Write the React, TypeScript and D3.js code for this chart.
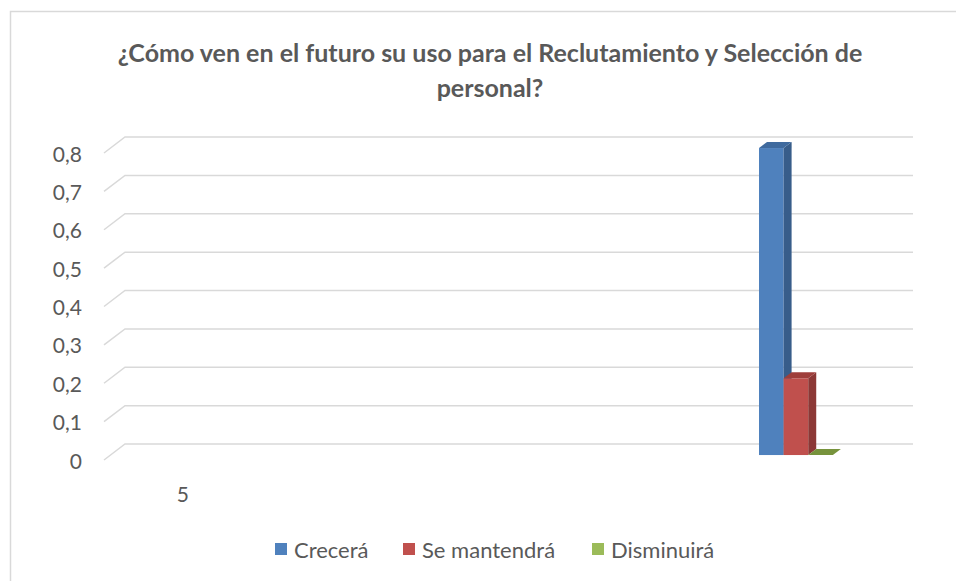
import React from 'react'
import * as d3 from 'd3'

// chart data
const categories = ['5', '', '', '', '']
const seriesNames = ['Crecerá', 'Se mantendrá', 'Disminuirá']
const crecera = [null, null, null, null, 0.8]
const seMantendra = [null, null, null, null, 0.2]
const disminuira = [null, null, null, null, 0]
const yTicks = [0, 0.1, 0.2, 0.3, 0.4, 0.5, 0.6, 0.7, 0.8]
const titleLines = ['¿Cómo ven en el futuro su uso para el Reclutamiento y Selección de', 'personal?']

const seriesValues = [crecera, seMantendra, disminuira]
const colors = [
  { front: '#4F81BD', side: '#385D8A', top: '#3F6A9E' },
  { front: '#C0504D', side: '#8C3836', top: '#9E3E3B' },
  { front: '#9BBB59', side: '#71893F', top: '#77933C' },
]

const width = 956,
  height = 581

// back wall of the plot
const left = 125,
  right = 913,
  bottom = 444,
  top = 137

// depth of the floor (back -> front)
const depthX = -21,
  depthY = 16
const barFront = 0.69,
  barBack = 0.31

const font = 'Lato, "Open Sans", sans-serif'
const textColor = '#595959'
const gridColor = '#D9D9D9'

export default function App() {
  const x = d3
    .scaleBand<number>()
    .domain(categories.map((_, i) => i))
    .range([left, right])

  const xs = d3
    .scaleBand<string>()
    .domain(seriesNames)
    .range([0, x.bandwidth()])
    .paddingOuter(1.7)
    .align(0.216)

  const y = d3.scaleLinear().domain([0, 0.8]).range([bottom, top])

  const fdx = depthX * barFront,
    fdy = depthY * barFront
  const bdx = depthX * barBack,
    bdy = depthY * barBack

  const poly = (pts: number[][]) => pts.map(p => p.join(',')).join(' ')

  // gridlines with slanted side wall segment
  const grid = yTicks.map((t, i) => (
    <g key={i}>
      <path
        d={`M${left + depthX},${y(t) + depthY}L${left},${y(t)}L${right},${y(t)}`}
        fill="none"
        stroke={gridColor}
        strokeWidth={1.5}
      />
      <text
        x={82}
        y={y(t) + depthY}
        textAnchor="end"
        dominantBaseline="central"
        fontSize={21}
        fill={textColor}
      >
        {d3.format('.1~f')(t).replace('.', ',')}
      </text>
    </g>
  ))

  const bars: React.ReactNode[] = []
  categories.forEach((c, ci) => {
    seriesNames.forEach((s, si) => {
      const v = seriesValues[si][ci]
      if (v == null) return
      const bx = (x(ci) as number) + (xs(s) as number)
      const bw = xs.bandwidth()
      const yv = y(v),
        y0 = y(0)
      const col = colors[si]
      bars.push(
        <g key={`${ci}-${si}`}>
          {v > 0 && (
            <rect x={bx + fdx} y={yv + fdy} width={bw} height={y0 - yv} fill={col.front} />
          )}
          {v > 0 && (
            <polygon
              points={poly([
                [bx + bw + fdx, yv + fdy],
                [bx + bw + bdx, yv + bdy],
                [bx + bw + bdx, y0 + bdy],
                [bx + bw + fdx, y0 + fdy],
              ])}
              fill={col.side}
            />
          )}
          <polygon
            points={poly([
              [bx + fdx, yv + fdy],
              [bx + bw + fdx, yv + fdy],
              [bx + bw + bdx, yv + bdy],
              [bx + bdx, yv + bdy],
            ])}
            fill={col.top}
          />
        </g>
      )
    })
  })

  // category labels on the front edge of the floor
  const xLabels = categories.map((c, i) =>
    c ? (
      <text
        key={i}
        x={(x(i) as number) + x.bandwidth() / 2 + depthX}
        y={493}
        textAnchor="middle"
        dominantBaseline="central"
        fontSize={21}
        fill={textColor}
      >
        {c}
      </text>
    ) : null
  )

  const legendX = [275, 403, 592]
  const legend = seriesNames.map((s, i) => (
    <g key={s} transform={`translate(${legendX[i]}, 549)`}>
      <rect x={0} y={-6} width={12} height={12} fill={colors[i].front} />
      <text x={19} y={0} dominantBaseline="central" fontSize={22} fill={textColor}>
        {s}
      </text>
    </g>
  ))

  return (
    <svg
      width={width}
      height={height}
      style={{ position: 'absolute', left: 0, top: 0, background: '#fff' }}
      fontFamily={font}
    >
      <rect x={10.5} y={11.5} width={1000} height={700} fill="#fff" stroke={gridColor} strokeWidth={1.5} />
      {titleLines.map((t, i) => (
        <text
          key={i}
          x={490}
          y={52 + i * 35}
          textAnchor="middle"
          dominantBaseline="central"
          fontSize={25}
          fontWeight="bold"
          fill={textColor}
        >
          {t}
        </text>
      ))}
      <g>{grid}</g>
      <g>{bars}</g>
      <g>{xLabels}</g>
      <g>{legend}</g>
    </svg>
  )
}
